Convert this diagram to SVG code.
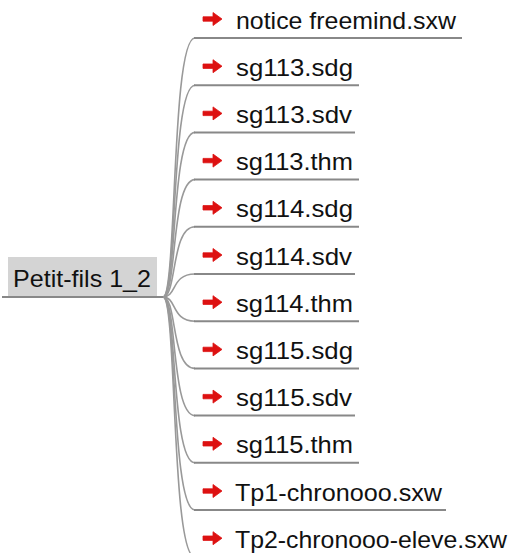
<svg xmlns="http://www.w3.org/2000/svg" width="512" height="553" viewBox="0 0 512 553">
<style>
.t{font-family:"Liberation Sans",Arial,sans-serif;font-size:24px;fill:#111}
.ul{stroke:#888;stroke-width:2;fill:none}
.c{stroke:#999;stroke-width:1.6;fill:none}
</style>
<defs>
<path id="arw" d="M0,-2.2 H10 V-6.5 L19,0 L10,6.5 V2.2 H0 Z" fill="#dd1111" stroke="#dd1111" stroke-width="0.8" stroke-linejoin="round"/>
</defs>
<rect width="512" height="553" fill="#fff"/>
<g id="connectors">
<path class="c" d="M163,297 C177,297 171,38 195,38"/>
<path class="c" d="M163,297 C177,297 171,85.2 195,85.2"/>
<path class="c" d="M163,297 C177,297 171,132.4 195,132.4"/>
<path class="c" d="M163,297 C177,297 171,179.6 195,179.6"/>
<path class="c" d="M163,297 C177,297 171,226.8 195,226.8"/>
<path class="c" d="M163,297 C177,297 171,274 195,274"/>
<path class="c" d="M163,297 C177,297 171,321.2 195,321.2"/>
<path class="c" d="M163,297 C177,297 171,368.4 195,368.4"/>
<path class="c" d="M163,297 C177,297 171,415.6 195,415.6"/>
<path class="c" d="M163,297 C177,297 171,462.8 195,462.8"/>
<path class="c" d="M163,297 C177,297 171,510 195,510"/>
<path class="c" d="M163,297 C177,297 171,557.2 195,557.2"/>
</g>
<g id="root">
<rect x="8" y="257" width="149" height="40" fill="#d4d4d4"/>
<line class="ul" x1="2" y1="297" x2="163" y2="297"/>
<text class="t" x="13" y="287" textLength="138" lengthAdjust="spacingAndGlyphs">Petit-fils 1_2</text>
</g>
<g id="n1"><use href="#arw" x="203" y="19"/><text class="t" x="236" y="28.5" textLength="220" lengthAdjust="spacingAndGlyphs">notice freemind.sxw</text><line class="ul" x1="194" y1="38" x2="462" y2="38"/></g>
<g id="n2"><use href="#arw" x="203" y="66.2"/><text class="t" x="236" y="75.7" textLength="117" lengthAdjust="spacingAndGlyphs">sg113.sdg</text><line class="ul" x1="194" y1="85.2" x2="359" y2="85.2"/></g>
<g id="n3"><use href="#arw" x="203" y="113.4"/><text class="t" x="236" y="122.9" textLength="116" lengthAdjust="spacingAndGlyphs">sg113.sdv</text><line class="ul" x1="194" y1="132.4" x2="355" y2="132.4"/></g>
<g id="n4"><use href="#arw" x="203" y="160.6"/><text class="t" x="236" y="170.1" textLength="117" lengthAdjust="spacingAndGlyphs">sg113.thm</text><line class="ul" x1="194" y1="179.6" x2="359" y2="179.6"/></g>
<g id="n5"><use href="#arw" x="203" y="207.8"/><text class="t" x="236" y="217.3" textLength="117" lengthAdjust="spacingAndGlyphs">sg114.sdg</text><line class="ul" x1="194" y1="226.8" x2="359" y2="226.8"/></g>
<g id="n6"><use href="#arw" x="203" y="255"/><text class="t" x="236" y="264.5" textLength="116" lengthAdjust="spacingAndGlyphs">sg114.sdv</text><line class="ul" x1="194" y1="274" x2="355" y2="274"/></g>
<g id="n7"><use href="#arw" x="203" y="302.2"/><text class="t" x="236" y="311.7" textLength="117" lengthAdjust="spacingAndGlyphs">sg114.thm</text><line class="ul" x1="194" y1="321.2" x2="359" y2="321.2"/></g>
<g id="n8"><use href="#arw" x="203" y="349.4"/><text class="t" x="236" y="358.9" textLength="117" lengthAdjust="spacingAndGlyphs">sg115.sdg</text><line class="ul" x1="194" y1="368.4" x2="359" y2="368.4"/></g>
<g id="n9"><use href="#arw" x="203" y="396.6"/><text class="t" x="236" y="406.1" textLength="116" lengthAdjust="spacingAndGlyphs">sg115.sdv</text><line class="ul" x1="194" y1="415.6" x2="355" y2="415.6"/></g>
<g id="n10"><use href="#arw" x="203" y="443.8"/><text class="t" x="236" y="453.3" textLength="117" lengthAdjust="spacingAndGlyphs">sg115.thm</text><line class="ul" x1="194" y1="462.8" x2="359" y2="462.8"/></g>
<g id="n11"><use href="#arw" x="203" y="491"/><text class="t" x="235" y="500.5" textLength="207" lengthAdjust="spacingAndGlyphs">Tp1-chronooo.sxw</text><line class="ul" x1="194" y1="510" x2="446" y2="510"/></g>
<g id="n12"><use href="#arw" x="203" y="538.2"/><text class="t" x="235" y="547.7" textLength="272" lengthAdjust="spacingAndGlyphs">Tp2-chronooo-eleve.sxw</text><line class="ul" x1="194" y1="557.2" x2="512" y2="557.2"/></g>
</svg>
